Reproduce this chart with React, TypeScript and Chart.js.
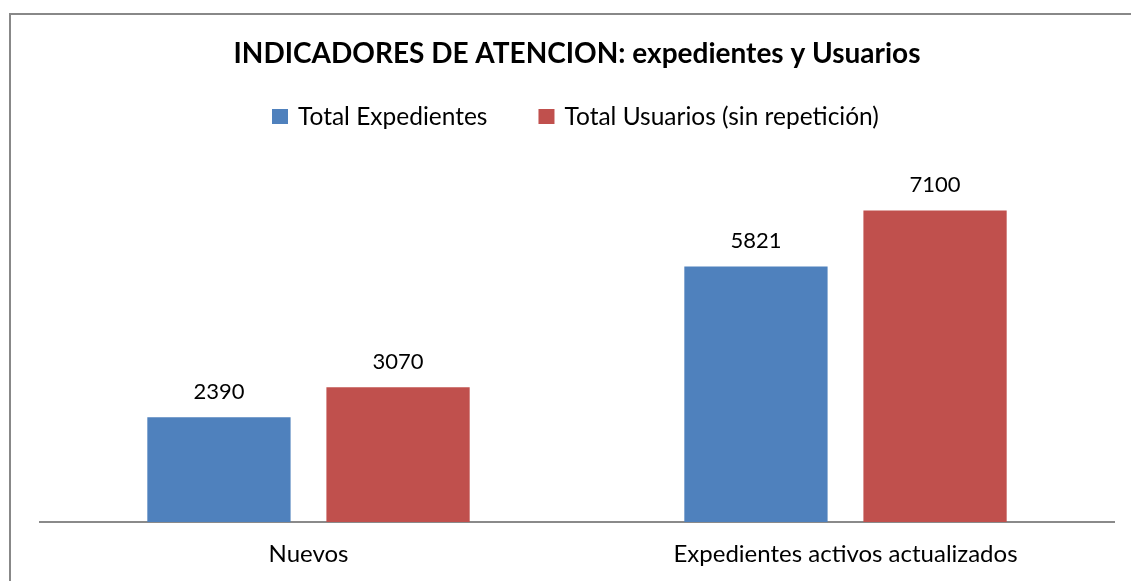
import { useEffect, useRef } from "react";
import { Chart, registerables } from "chart.js";

Chart.register(...registerables);

const categories = ["Nuevos", "Expedientes activos actualizados"];
const seriesNames = ["Total Expedientes", "Total Usuarios (sin repetición)"];
const totalExpedientes = [2390, 5821];
const totalUsuarios = [3070, 7100];
const seriesColors = ["#4F81BD", "#C0504D"];
const chartTitle = "INDICADORES DE ATENCION: expedientes y Usuarios";
const yMax = 8000;

const FONT = "Lato, 'Open Sans', sans-serif";

const valueLabels = {
  id: "valueLabels",
  afterDatasetsDraw(chart: any) {
    const ctx = chart.ctx;
    ctx.save();
    ctx.font = `22px ${FONT}`;
    ctx.fillStyle = "#000";
    ctx.textAlign = "center";
    ctx.textBaseline = "alphabetic";
    chart.data.datasets.forEach((ds: any, i: number) => {
      const meta = chart.getDatasetMeta(i);
      meta.data.forEach((el: any, j: number) => {
        ctx.fillText(String(ds.data[j]), el.x, el.y - 18.5);
      });
    });
    ctx.restore();
  },
};

const customLegend = {
  id: "customLegend",
  afterDraw(chart: any, _args: any, opts: any) {
    const ctx = chart.ctx;
    ctx.save();
    ctx.font = `24.5px ${FONT}`;
    ctx.textBaseline = "middle";
    ctx.textAlign = "left";
    let x = chart.chartArea.left + opts.offsetX;
    const y = opts.y;
    chart.data.datasets.forEach((ds: any) => {
      ctx.fillStyle = ds.backgroundColor;
      ctx.fillRect(x, y - 7.5, 16, 15);
      x += 16 + 10;
      ctx.fillStyle = "#000";
      ctx.fillText(ds.label, x, y + 1);
      x += ctx.measureText(ds.label).width + 51;
    });
    ctx.restore();
  },
};

export default function App() {
  const ref = useRef<HTMLCanvasElement | null>(null);

  useEffect(() => {
    if (!ref.current) return;
    const chart = new Chart(ref.current, {
      type: "bar",
      data: {
        labels: categories,
        datasets: [
          {
            label: seriesNames[0],
            data: totalExpedientes,
            backgroundColor: seriesColors[0],
            barPercentage: 0.8,
            categoryPercentage: 0.667,
          },
          {
            label: seriesNames[1],
            data: totalUsuarios,
            backgroundColor: seriesColors[1],
            barPercentage: 0.8,
            categoryPercentage: 0.667,
          },
        ],
      },
      options: {
        responsive: false,
        animation: false,
        layout: { padding: { left: 40, right: 17, top: 0, bottom: 0 } },
        scales: {
          x: {
            grid: { display: false, drawTicks: false },
            border: { display: true, color: "#8a8a8a", width: 2 },
            ticks: {
              padding: 18,
              color: "#000",
              font: { family: FONT, size: 24 },
            },
            afterFit: (scale: any) => {
              scale.height = 59;
            },
          },
          y: {
            display: false,
            min: 0,
            max: yMax,
          },
        },
        plugins: {
          legend: { display: false },
          tooltip: { enabled: false },
          title: {
            display: true,
            text: chartTitle,
            color: "#000",
            font: { family: FONT, size: 28, weight: "bold" },
            padding: { top: 37, bottom: 100.4 },
          },
          customLegend: { offsetX: 232, y: 116.5 },
        } as any,
      },
      plugins: [valueLabels, customLegend],
    });
    return () => chart.destroy();
  }, []);

  return (
    <div style={{ position: "fixed", left: 0, top: 0, width: 1131, height: 581, background: "#fff", overflow: "hidden" }}>
      <div
        style={{
          position: "absolute",
          left: 9,
          top: 13,
          width: 1200,
          height: 700,
          borderLeft: "2px solid #888",
          borderTop: "2px solid #888",
        }}
      />
      <canvas ref={ref} width={1131} height={581} style={{ position: "absolute", left: 0, top: 0, width: 1131, height: 581 }} />
    </div>
  );
}
